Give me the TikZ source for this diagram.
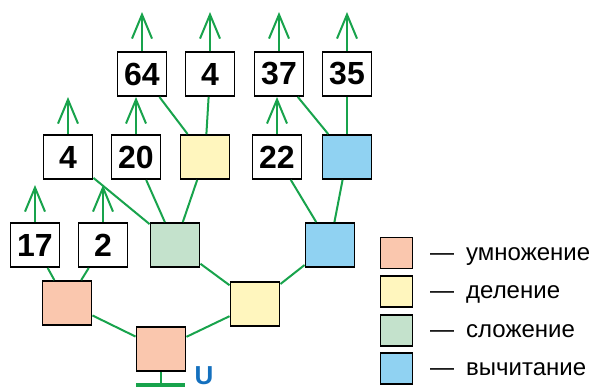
\documentclass[tikz,border=0pt]{standalone}
\usepackage{fontspec}
\setmainfont{Liberation Sans}
\usetikzlibrary{arrows.meta}

\definecolor{wire}{RGB}{24,163,76}
\definecolor{mulfill}{RGB}{250,199,174}
\definecolor{divfill}{RGB}{255,246,190}
\definecolor{addfill}{RGB}{196,226,204}
\definecolor{subfill}{RGB}{144,210,242}
\definecolor{outblue}{RGB}{20,112,190}

\begin{document}
\begin{tikzpicture}[x=1pt,y=-1pt,
  box/.style={draw=black,line width=1.9pt,minimum width=49pt,minimum height=44pt,
    inner sep=0pt,font=\fontsize{32}{32}\selectfont\bfseries},
  mul/.style={box,fill=mulfill},
  dvd/.style={box,fill=divfill},
  add/.style={box,fill=addfill},
  sub/.style={box,fill=subfill},
  key/.style={draw=black,line width=1.9pt,minimum width=32pt,minimum height=31pt,inner sep=0pt},
  keytext/.style={anchor=base west,inner sep=0pt,font=\fontsize{24}{24}\selectfont},
  link/.style={draw=wire,line width=2pt},
  up/.style={link,-{Straight Barb[length=24pt,width=20pt]}}]
  \useasboundingbox (0,0) rectangle (596,389);

  % top row
  \node[box] (n64) at (142,74) {64};
  \node[box] (n4a) at (210,74) {4};
  \node[box] (n37) at (279,74) {37};
  \node[box] (n35) at (347,74) {35};

  % second row
  \node[box] (n4b) at (68,157) {4};
  \node[box] (n20) at (136,157) {20};
  \node[dvd] (d1) at (205,157) {};
  \node[box] (n22) at (277,157) {22};
  \node[sub] (s1) at (347,157) {};

  % third row
  \node[box] (n17) at (35,245) {17};
  \node[box] (n2) at (103,245) {2};
  \node[add] (a1) at (175,245) {};
  \node[sub] (s2) at (330,245) {};

  % bottom part
  \node[mul] (m1) at (67,303) {};
  \node[dvd] (d2) at (255,304) {};
  \node[mul] (m0) at (161,349) {};
  \node[inner sep=0pt,text=outblue,font=\fontsize{26}{26}\selectfont\bfseries] (out) at (204,375.5) {U};

  % free ends of the arrows
  \coordinate (t64) at (142,12);
  \coordinate (t4a) at (210,12);
  \coordinate (t37) at (279,12);
  \coordinate (t35) at (347,12);
  \coordinate (t4b) at (68,97);
  \coordinate (t17) at (35,185);
  \coordinate (t2) at (103,185);
  \coordinate (gnd) at (161,385);

  % arrows
  \draw[up] (n64) -- (t64);
  \draw[up] (n4a) -- (t4a);
  \draw[up] (n37) -- (t37);
  \draw[up] (n35) -- (t35);
  \draw[up] (n4b) -- (t4b);
  \draw[up] (n20.north) -- (n20.north |- n64.south);
  \draw[up] (n22.north) -- (n22.north |- n37.south);
  \draw[up] (n17) -- (t17);
  \draw[up] (n2) -- (t2);

  % connections
  \draw[link] (n64) -- (d1);
  \draw[link] (n4a) -- (d1);
  \draw[link] (n37) -- (s1);
  \draw[link] (n35) -- (s1);
  \draw[link] (n4b) -- (a1);
  \draw[link] (n20) -- (a1);
  \draw[link] (d1) -- (a1);
  \draw[link] (n22) -- (s2);
  \draw[link] (s1) -- (s2);
  \draw[link] (n17) -- (m1);
  \draw[link] (n2) -- (m1);
  \draw[link] (a1) -- (d2);
  \draw[link] (s2) -- (d2);
  \draw[link] (m1) -- (m0);
  \draw[link] (d2) -- (m0);
  \draw[link] (m0) -- (gnd);
  \draw[link,line width=3.2pt] ([xshift=-25pt]gnd) -- ([xshift=24pt]gnd);

  % legend
  \node[key,fill=mulfill] (k1) at (396.5,253) {};
  \node[key,fill=divfill] (k2) at (396.5,291.5) {};
  \node[key,fill=addfill] (k3) at (396.5,330.5) {};
  \node[key,fill=subfill] (k4) at (396.5,368.5) {};
  \node[keytext] (l1) at (430,260) {—\enspace умножение};
  \node[keytext] (l2) at (430,298) {—\enspace деление};
  \node[keytext] (l3) at (430,337) {—\enspace сложение};
  \node[keytext] (l4) at (430,375) {—\enspace вычитание};
\end{tikzpicture}
\end{document}
